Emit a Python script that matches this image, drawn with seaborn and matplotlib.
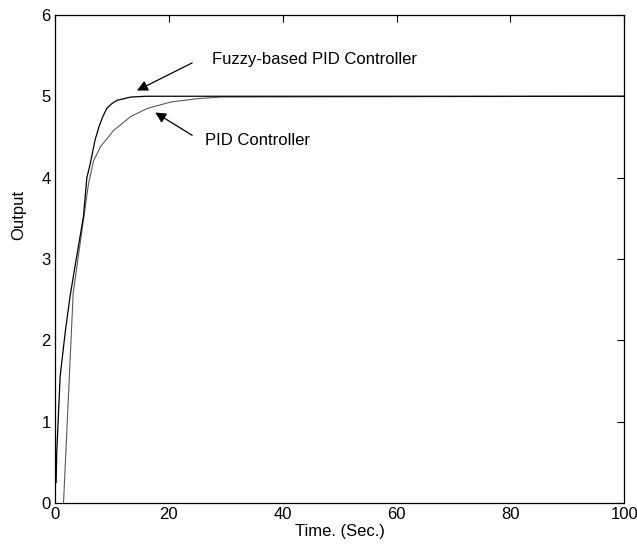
import numpy as np
import pandas as pd
import matplotlib
matplotlib.use("Agg")
import matplotlib.pyplot as plt
import seaborn as sns

sns.set_theme(style="white")
plt.rcParams['font.family'] = ['Liberation Sans', 'DejaVu Sans']
plt.rcParams['text.color'] = 'black'
plt.rcParams['axes.labelcolor'] = 'black'

# step responses
fuzzy_t = [0.2, 0.3, 0.9, 1.8, 2.65, 3.5, 5.0, 5.6, 6.2, 7.0, 7.7, 8.4, 9.1, 10.0, 10.9, 13.3, 16.0, 100.0]
fuzzy_y = [0.25, 0.6, 1.55, 2.1, 2.54, 2.9, 3.52, 4.0, 4.17, 4.45, 4.62, 4.75, 4.85, 4.91, 4.95, 4.99, 5.0, 5.0]

pid_t = [1.5, 3.2, 5.0, 5.9, 6.8, 8.0, 10.3, 13.3, 16.2, 20.4, 25.0, 29.0, 100.0]
pid_y = [0.0, 2.58, 3.48, 3.93, 4.21, 4.38, 4.58, 4.75, 4.85, 4.93, 4.97, 4.99, 5.0]

x_ticks = [0, 20, 40, 60, 80, 100]
y_ticks = [0, 1, 2, 3, 4, 5, 6]

fig = plt.figure(figsize=(6.37, 5.52), dpi=100)
ax = fig.add_axes([0.0863, 0.0888, 0.8937, 0.8842])

sns.lineplot(x=pid_t, y=pid_y, ax=ax, color='#5a5a5a', lw=0.8, sort=False, estimator=None)
sns.lineplot(x=fuzzy_t, y=fuzzy_y, ax=ax, color='black', lw=0.9, sort=False, estimator=None)

ax.set_xlim(0, 100)
ax.set_ylim(0, 6)
ax.set_xticks(x_ticks)
ax.set_yticks(y_ticks)
ax.tick_params(direction='in', top=True, right=True, length=5, width=0.8,
               labelsize=12, colors='black', pad=3)
for s in ax.spines.values():
    s.set_color('black')
    s.set_linewidth(0.9)

ax.set_xlabel('Time. (Sec.)', fontsize=12, labelpad=1)
ax.set_ylabel('Output', fontsize=12)
ax.yaxis.set_label_coords(-0.05, 0.59)

arrow = dict(arrowstyle='-|>', color='black', lw=0.9, mutation_scale=16,
             shrinkA=0, shrinkB=0)
ax.annotate('', xy=(14.4, 5.07), xytext=(24.1, 5.41), arrowprops=arrow)
ax.text(27.6, 5.45, 'Fuzzy-based PID Controller', fontsize=12, va='center', ha='left')
ax.annotate('', xy=(17.6, 4.80), xytext=(24.1, 4.52), arrowprops=arrow)
ax.text(26.4, 4.46, 'PID Controller', fontsize=12, va='center', ha='left')

fig.savefig('out.png', dpi=100)
